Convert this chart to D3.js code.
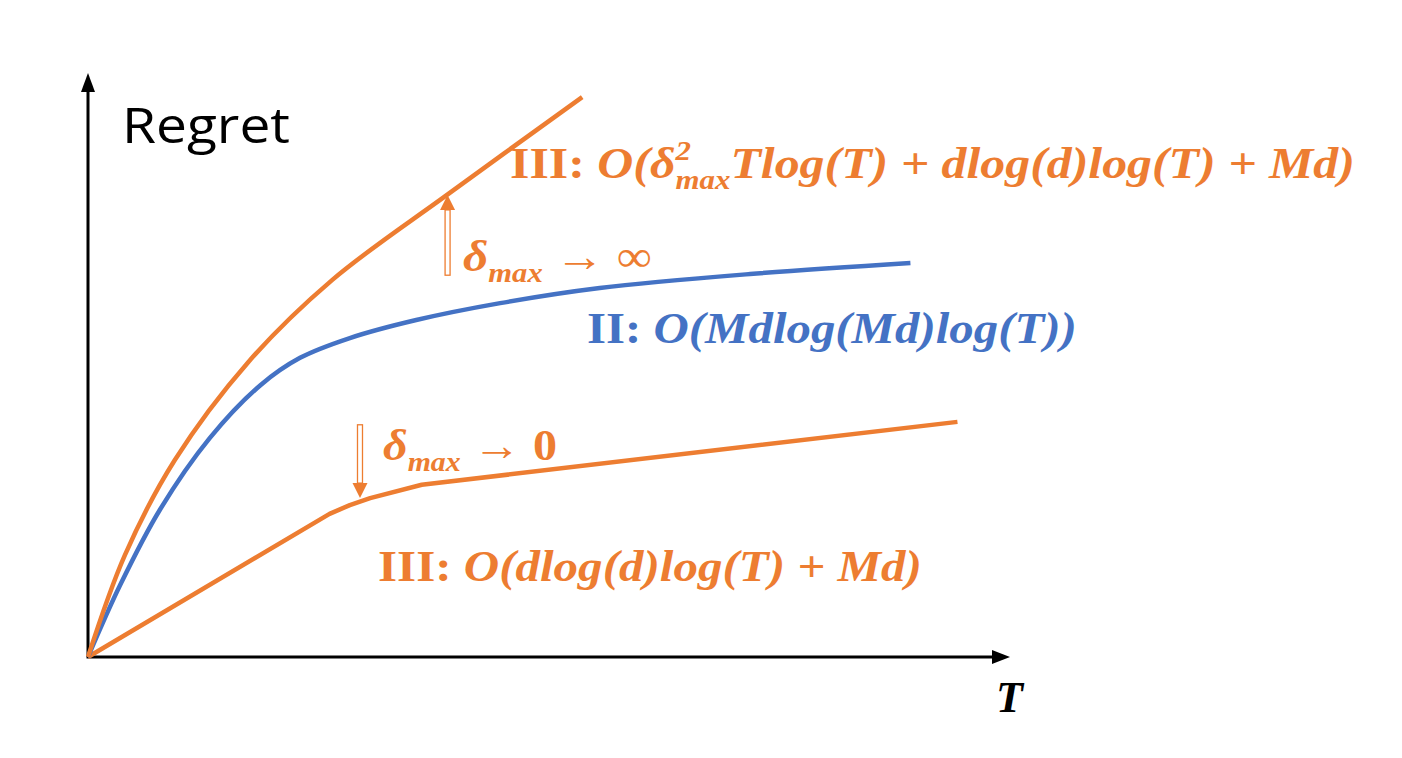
<!DOCTYPE html>
<html>
<head>
<meta charset="utf-8">
<script src="https://cdn.jsdelivr.net/npm/d3@7"></script>
<style>
  body { margin: 0; background: #fff; }
</style>
</head>
<body>
<div id="viz"></div>
<script>
const width = 1402,
    height = 758,
    orange = "#ED7D31",
    blue = "#4472C4";

// T (0-100) vs regret (0-100)
const upperT = [0, 4.0, 9.4, 17.4, 26.5, 39.2, 53.6];
const upperR = [0, 17.5, 33.8, 50.7, 64.8, 79.7, 96.2];

const blueT = [0, 3.5, 7.8, 13.2, 18.7, 23.0, 28.4, 35.6, 44.7, 55.5, 71.8, 89.2];
const blueR = [0, 12.4, 25.3, 37.6, 46.7, 51.4, 54.8, 57.9, 60.8, 63.4, 65.8, 67.7];

const lowerT = [0, 26.2, 28.4, 30.6, 36.2, 94.3];
const lowerR = [0, 24.6, 26.1, 27.3, 29.6, 40.4];

// arrows between the regimes: [T, from regret, to regret]
const arrowUp = [39.0, 65.6, 79.4];
const arrowDown = [29.5, 39.9, 27.3];

// label pieces: [text, kind]
const labelTop = [["III: ", "b"], ["O(δ", "m"], ["2", "sup"], ["max", "sub"], ["Tlog(T) + dlog(d)log(T) + Md)", "m"]];
const labelInf = [["δ", "m"], ["max", "sub"], [" → ∞", "r"]];
const labelMid = [["II: ", "b"], ["O(Mdlog(Md)log(T))", "m"]];
const labelZero = [["δ", "m"], ["max", "sub"], [" → ", "r"], ["0", "b"]];
const labelLow = [["III: ", "b"], ["O(dlog(d)log(T) + Md)", "m"]];

const svg = d3.select("#viz").append("svg")
    .attr("width", width)
    .attr("height", height);

const x = d3.scaleLinear().domain([0, 100]).range([88, 1010]);
const y = d3.scaleLinear().domain([0, 100]).range([657, 75]);

// axes
svg.append("line")
    .attr("x1", x(0)).attr("y1", y(0))
    .attr("x2", x(0)).attr("y2", y(100) + 14)
    .attr("stroke", "#000").attr("stroke-width", 3);
svg.append("path")
    .attr("d", `M${x(0) - 7},${y(100) + 17}L${x(0)},${y(100) - 2}L${x(0) + 7},${y(100) + 17}Z`)
    .attr("fill", "#000");
svg.append("line")
    .attr("x1", x(0) - 1.5).attr("y1", y(0))
    .attr("x2", x(100) - 14).attr("y2", y(0))
    .attr("stroke", "#000").attr("stroke-width", 3);
svg.append("path")
    .attr("d", `M${x(100) - 18},${y(0) - 7}L${x(100)},${y(0)}L${x(100) - 18},${y(0) + 7}Z`)
    .attr("fill", "#000");

svg.append("text")
    .attr("x", 996).attr("y", 712)
    .style("font-family", "Liberation Serif")
    .style("font-weight", "bold").style("font-style", "italic")
    .style("font-size", "44px")
    .text("T");

const regret = svg.append("text")
    .attr("y", 143)
    .style("font-family", "Open Sans")
    .style("font-size", "50px")
    .text("Regret");
fit(regret, 122, 290);

// curves
const line = d3.line().x(d => x(d[0])).y(d => y(d[1]));

function drawCurve(ts, rs, color, curve) {
    svg.append("path")
        .datum(d3.zip(ts, rs))
        .attr("d", line.curve(curve))
        .attr("fill", "none")
        .attr("stroke", color)
        .attr("stroke-width", 4.5)
        .attr("stroke-linejoin", "round");
}

drawCurve(lowerT, lowerR, orange, d3.curveLinear);
drawCurve(blueT, blueR, blue, d3.curveCatmullRom.alpha(0.5));
drawCurve(upperT, upperR, orange, d3.curveCatmullRom.alpha(0.5));

// hollow block arrows
function drawArrow(a) {
    const ax = x(a[0]), y0 = y(a[1]), y1 = y(a[2]);
    const dir = y1 < y0 ? -1 : 1;
    const headLen = 15, shaftEnd = y1 - dir * headLen;
    svg.append("rect")
        .attr("x", ax - 2.5)
        .attr("y", Math.min(y0, shaftEnd))
        .attr("width", 5)
        .attr("height", Math.abs(shaftEnd - y0))
        .attr("fill", "#fff")
        .attr("stroke", orange)
        .attr("stroke-width", 1.3);
    svg.append("path")
        .attr("d", `M${ax - 7.5},${shaftEnd}L${ax},${y1}L${ax + 7.5},${shaftEnd}Z`)
        .attr("fill", orange);
}
drawArrow(arrowUp);
drawArrow(arrowDown);

// math-ish labels
function drawLabel(parts, x0, x1, baseline, color, size) {
    const t = svg.append("text")
        .attr("y", baseline)
        .attr("fill", color)
        .style("font-family", "Liberation Serif")
        .style("font-size", size + "px");
    let shift = 0;
    parts.forEach(([s, k]) => {
        const ts = t.append("tspan").text(s);
        let target = 0;
        if (k === "b") {
            ts.style("font-weight", "bold");
        } else if (k === "r") {
            ts.style("font-weight", "normal");
        } else {
            ts.style("font-weight", "bold").style("font-style", "italic");
        }
        if (k === "sup") {
            ts.style("font-size", size * 0.62 + "px");
            target = -size * 0.42;
        }
        if (k === "sub") {
            ts.style("font-size", size * 0.62 + "px");
            target = size * 0.26;
            if (shift < 0) ts.attr("dx", -size * 0.62 * 0.5);
        }
        if (target !== shift) ts.attr("dy", target - shift);
        shift = target;
    });
    fit(t, x0, x1);
    return t;
}

function fit(sel, x0, x1) {
    const bb = sel.node().getBBox();
    const sx = (x1 - x0) / bb.width;
    sel.attr("transform", `translate(${x0},0) scale(${sx},1) translate(${-bb.x},0)`);
}

drawLabel(labelTop, 510, 1355, 178, orange, 44);
drawLabel(labelInf, 463, 652, 271, orange, 44);
drawLabel(labelMid, 587, 1077, 343, blue, 44);
drawLabel(labelZero, 383, 557, 460, orange, 44);
drawLabel(labelLow, 378, 922, 581, orange, 44);
</script>
</body>
</html>
